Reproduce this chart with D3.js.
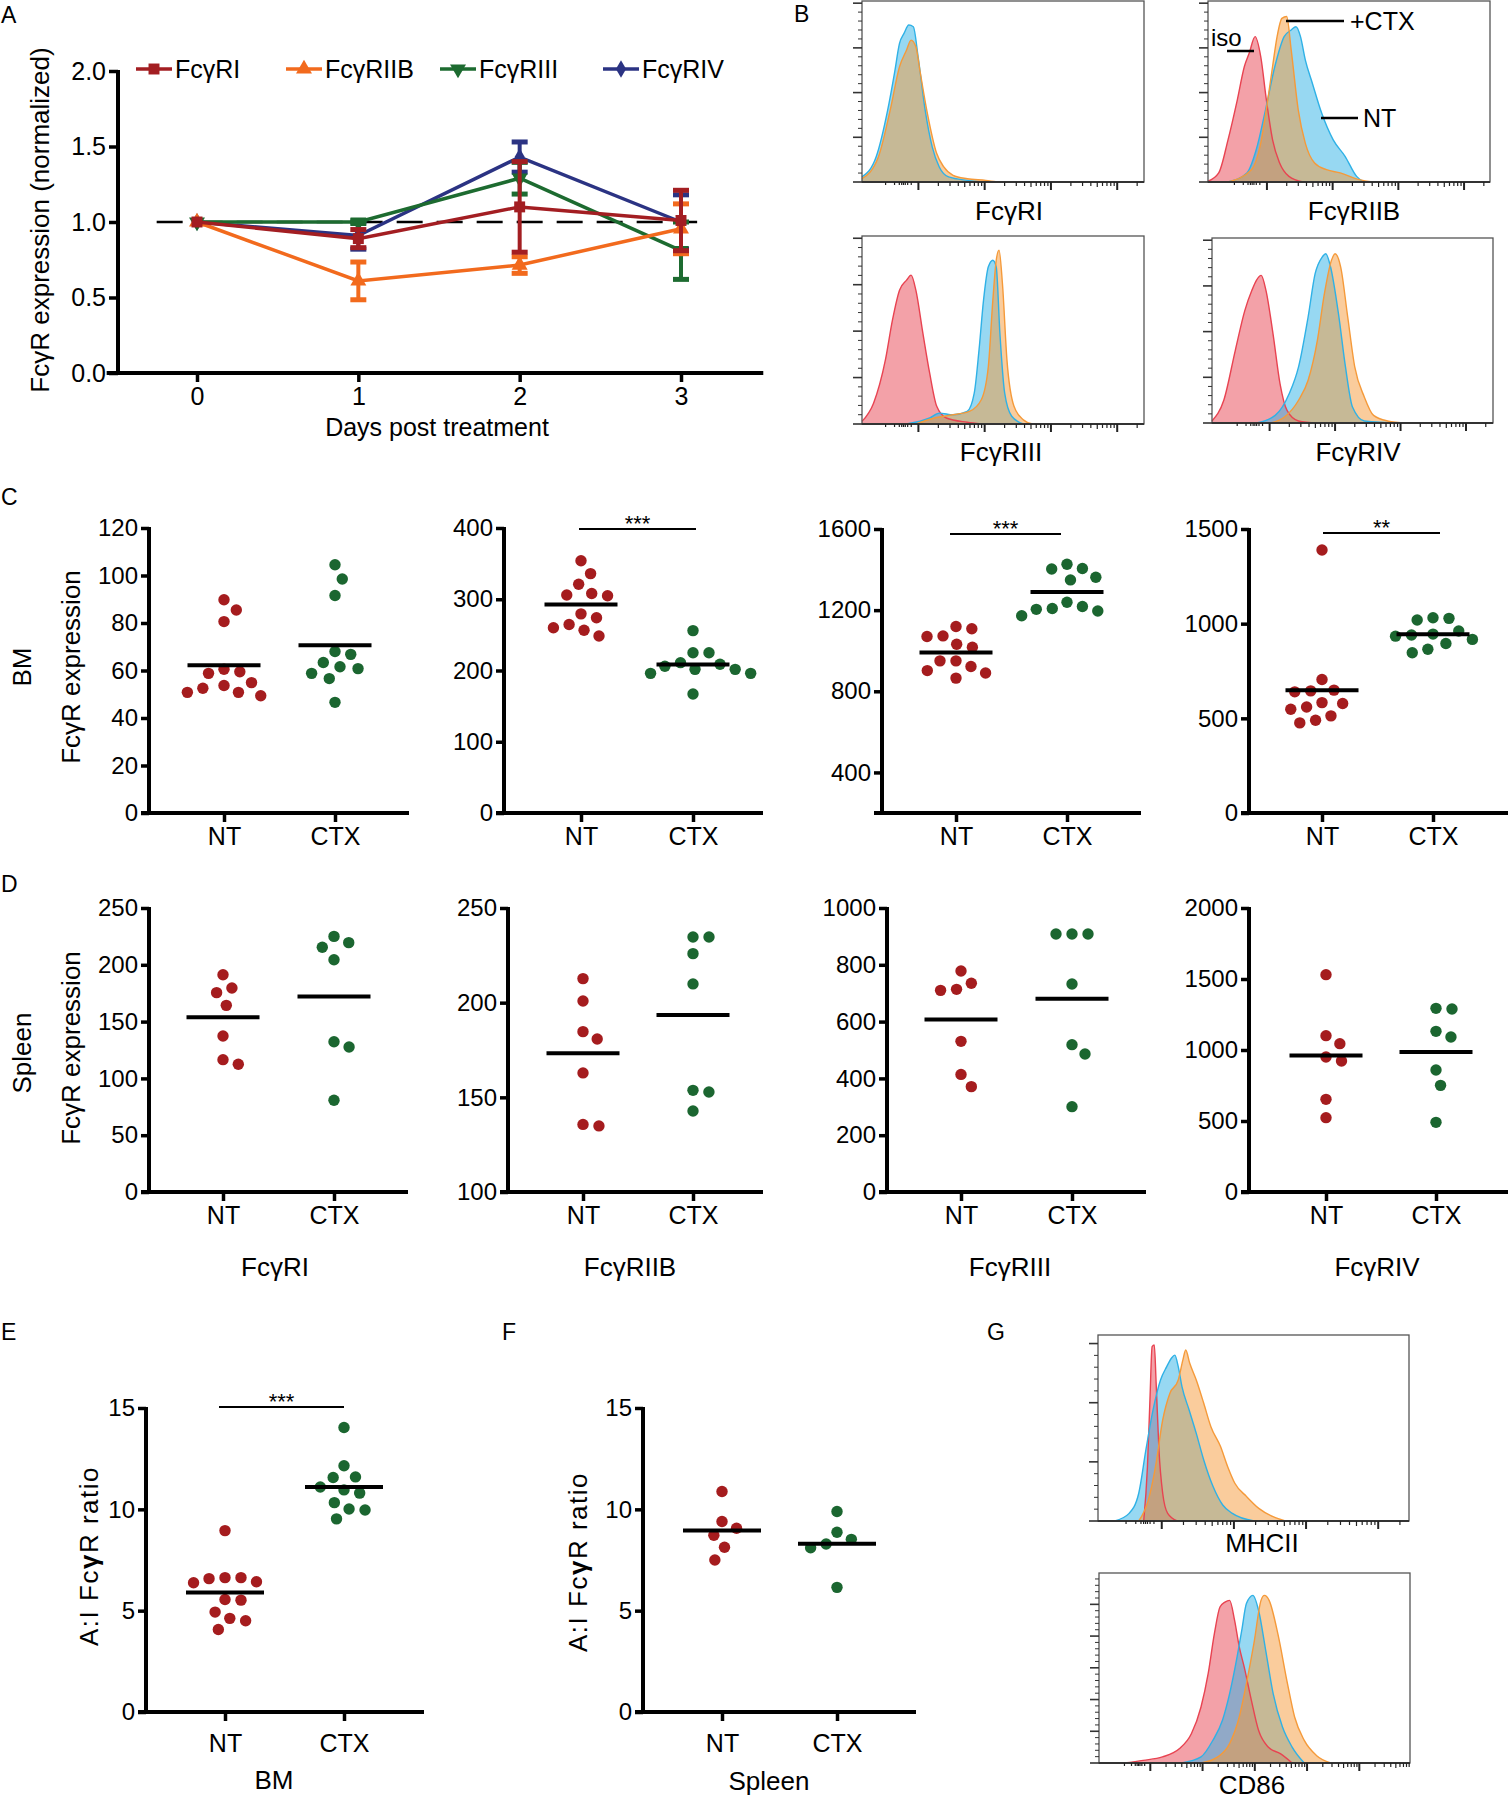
<!DOCTYPE html>
<html><head><meta charset="utf-8">
<script src="https://cdn.jsdelivr.net/npm/d3@7"></script>
<style>body{margin:0;background:#fff}</style>
</head><body>
<svg id="fig" width="1508" height="1800"></svg>
<script>
// ================= DATA =================
// Panel A: normalized FcγR expression over days
const days = [0, 1, 2, 3];
const aTicks = [0, 0.5, 1.0, 1.5, 2.0];
const aSeries = ["FcγRI", "FcγRIIB", "FcγRIII", "FcγRIV"];
const aMeanRI   = [1.00, 0.89, 1.10, 1.01];
const aErrRI    = [0, 0.06, 0.30, 0.20];
const aMeanRIIB = [1.00, 0.61, 0.715, 0.955];
const aErrRIIB  = [0, 0.125, 0.055, 0.165];
const aMeanRIII = [1.00, 1.00, 1.29, 0.81];
const aErrRIII  = [0, 0.01, 0.105, 0.19];
const aMeanRIV  = [1.00, 0.91, 1.43, 1.00];
const aErrRIV   = [0, 0.09, 0.10, 0.18];

// Dot plots groups
const groups = ["NT", "CTX"];
// C: bone marrow
const bmRI_NT    = [89.8, 85.5, 80.6, 59.5, 58.8, 60.5, 53.7, 50.8, 49.4, 50.8, 52.5, 54.9];
const bmRI_CTX   = [104.5, 98.5, 91.6, 66.8, 68.0, 63.4, 61.6, 58.8, 60.8, 56.6, 46.6];
const bmRIIB_NT  = [354, 336, 321, 308, 305, 306, 279.5, 274, 260, 264.5, 256.5, 248.5];
const bmRIIB_CTX = [256, 225, 225, 208.7, 201.6, 196, 196, 201.6, 206, 211, 167];
const bmRIII_NT  = [1108, 1119, 1070, 1073, 1032, 1017, 950, 950, 902, 890, 922, 865];
const bmRIII_CTX = [1426, 1405, 1403, 1362, 1349, 1239, 1218, 1204, 1196, 1208, 1172];
const bmRIV_NT   = [1389, 705, 645, 640, 649, 583, 560, 578, 548, 513, 490, 476];
const bmRIV_CTX  = [1031, 1019, 1028, 934, 945, 940, 961, 895, 917, 865, 846];
const ticksBmRI = [0, 20, 40, 60, 80, 100, 120];
const ticksBmRIIB = [0, 100, 200, 300, 400];
const ticksBmRIII = [400, 800, 1200, 1600];
const ticksBmRIV = [0, 500, 1000, 1500];
// D: spleen
const spRI_NT    = [191.3, 179.6, 175.5, 164.3, 137.3, 116.5, 112.4];
const spRI_CTX   = [225, 219.5, 215.4, 204.5, 132.3, 127.6, 80.7];
const spRIIB_NT  = [212.7, 200.9, 184.7, 180.8, 162.9, 134.9, 135.7];
const spRIIB_CTX = [234.7, 234.7, 225.9, 209.9, 153.7, 152.8, 142.8];
const spRIII_NT  = [778, 735, 710, 713.6, 530.5, 414, 371];
const spRIII_CTX = [908.5, 908.5, 908.5, 732.4, 518.8, 486, 300.5];
const spRIV_NT   = [1530.5, 1101, 1044.6, 950.7, 922.5, 652.6, 523.5];
const spRIV_CTX  = [1293.4, 1288.7, 1131.5, 1091.5, 859, 751, 490.6];
const ticksSpRI = [0, 50, 100, 150, 200, 250];
const ticksSpRIIB = [100, 150, 200, 250];
const ticksSpRIII = [0, 200, 400, 600, 800, 1000];
const ticksSpRIV = [0, 500, 1000, 1500, 2000];
// E/F: A:I ratio
const ratioBM_NT  = [8.95, 6.43, 6.63, 6.58, 6.63, 6.38, 5.55, 5.52, 4.62, 4.93, 4.5, 4.07];
const ratioBM_CTX = [14.04, 12.15, 11.57, 11.6, 10.96, 11.1, 10.8, 10.02, 9.97, 10.33, 9.53];
const ratioSp_NT  = [10.88, 9.07, 9.4, 8.72, 8.13, 7.5];
const ratioSp_CTX = [9.89, 8.87, 8.52, 8.29, 8.1, 6.15];
const ticksRatio = [0, 5, 10, 15];

// Flow histograms: [position (fraction of axis), height (fraction of axis)]
const flowRI_NT = [[0,0.028],[0.05,0.138],[0.091,0.397],[0.116,0.609],[0.133,0.766],[0.149,0.821],[0.166,0.867],[0.182,0.858],[0.199,0.692],[0.224,0.397],[0.249,0.194],[0.274,0.083],[0.307,0.028],[0.373,0.009],[0.439,0]];
const flowRI_CTX = [[0,0.018],[0.058,0.138],[0.10,0.397],[0.133,0.637],[0.158,0.729],[0.174,0.784],[0.191,0.747],[0.207,0.60],[0.232,0.378],[0.265,0.157],[0.29,0.083],[0.323,0.037],[0.373,0.018],[0.439,0.009],[0.481,0]];
const flowRIIB_iso = [[0,0.004],[0.038,0.05],[0.071,0.233],[0.104,0.454],[0.129,0.638],[0.146,0.711],[0.167,0.803],[0.187,0.693],[0.207,0.454],[0.229,0.233],[0.254,0.105],[0.287,0.031],[0.337,0]];
const flowRIIB_NT = [[0.071,0],[0.138,0.05],[0.171,0.178],[0.204,0.399],[0.237,0.638],[0.27,0.803],[0.295,0.84],[0.312,0.858],[0.328,0.803],[0.345,0.675],[0.37,0.546],[0.403,0.381],[0.444,0.233],[0.486,0.142],[0.527,0.031],[0.552,0]];
const flowRIIB_CTX = [[0.071,0],[0.154,0.068],[0.187,0.215],[0.212,0.454],[0.229,0.638],[0.245,0.803],[0.262,0.904],[0.279,0.914],[0.295,0.73],[0.32,0.399],[0.345,0.215],[0.378,0.105],[0.42,0.068],[0.469,0.05],[0.536,0.013],[0.585,0]];
const flowRIII_iso = [[0,0.014],[0.041,0.111],[0.083,0.341],[0.108,0.553],[0.133,0.712],[0.158,0.765],[0.174,0.792],[0.191,0.712],[0.216,0.482],[0.24,0.27],[0.265,0.094],[0.299,0.032],[0.373,0.009],[0.423,0]];
const flowRIII_NT = [[0.158,0],[0.24,0.032],[0.274,0.058],[0.323,0.049],[0.373,0.067],[0.398,0.164],[0.415,0.394],[0.431,0.659],[0.448,0.836],[0.464,0.871],[0.476,0.836],[0.489,0.482],[0.506,0.164],[0.531,0.041],[0.572,0]];
const flowRIII_CTX = [[0.191,0],[0.257,0.032],[0.323,0.049],[0.381,0.067],[0.423,0.129],[0.448,0.306],[0.464,0.659],[0.476,0.871],[0.486,0.924],[0.498,0.747],[0.514,0.341],[0.539,0.094],[0.572,0.023],[0.605,0]];
const flowRIV_iso = [[0,0.011],[0.042,0.123],[0.083,0.393],[0.117,0.609],[0.142,0.717],[0.158,0.771],[0.175,0.798],[0.192,0.717],[0.217,0.483],[0.242,0.213],[0.267,0.068],[0.308,0.011],[0.375,0]];
const flowRIV_NT = [[0.158,0],[0.225,0.041],[0.275,0.159],[0.308,0.303],[0.342,0.573],[0.367,0.807],[0.392,0.897],[0.405,0.915],[0.422,0.843],[0.45,0.591],[0.475,0.303],[0.5,0.086],[0.542,0.011],[0.675,0]];
const flowRIV_CTX = [[0.208,0],[0.258,0.032],[0.308,0.123],[0.342,0.231],[0.375,0.447],[0.4,0.699],[0.425,0.879],[0.438,0.915],[0.458,0.843],[0.483,0.573],[0.508,0.303],[0.542,0.141],[0.575,0.041],[0.625,0.011],[0.692,0]];
const flowMHCII_iso = [[0.147,0],[0.159,0.292],[0.167,0.651],[0.174,0.937],[0.181,0.946],[0.187,0.74],[0.196,0.382],[0.208,0.149],[0.224,0.041],[0.255,0]];
const flowMHCII_NT = [[0.054,0],[0.10,0.041],[0.131,0.149],[0.154,0.382],[0.177,0.597],[0.201,0.758],[0.221,0.83],[0.236,0.875],[0.247,0.892],[0.258,0.83],[0.27,0.722],[0.293,0.597],[0.316,0.471],[0.34,0.328],[0.37,0.185],[0.401,0.086],[0.432,0.041],[0.502,0]];
const flowMHCII_CTX = [[0.131,0],[0.162,0.113],[0.185,0.292],[0.208,0.543],[0.231,0.686],[0.258,0.758],[0.273,0.866],[0.282,0.919],[0.295,0.848],[0.316,0.758],[0.34,0.633],[0.363,0.507],[0.394,0.40],[0.417,0.292],[0.44,0.203],[0.478,0.131],[0.517,0.068],[0.563,0.023],[0.602,0]];
const flowCD86_iso = [[0.08,0],[0.142,0.014],[0.204,0.032],[0.258,0.075],[0.297,0.154],[0.328,0.295],[0.351,0.47],[0.371,0.681],[0.389,0.821],[0.405,0.847],[0.42,0.856],[0.436,0.751],[0.451,0.611],[0.467,0.505],[0.49,0.33],[0.513,0.172],[0.544,0.084],[0.583,0.049],[0.621,0]];
const flowCD86_NT = [[0.266,0],[0.328,0.032],[0.366,0.119],[0.397,0.225],[0.42,0.365],[0.444,0.558],[0.459,0.698],[0.474,0.839],[0.495,0.882],[0.513,0.804],[0.536,0.593],[0.56,0.365],[0.59,0.189],[0.621,0.084],[0.66,0]];
const flowCD86_CTX = [[0.328,0],[0.382,0.032],[0.42,0.102],[0.451,0.242],[0.474,0.418],[0.498,0.628],[0.521,0.856],[0.532,0.882],[0.547,0.856],[0.575,0.681],[0.606,0.418],[0.629,0.242],[0.66,0.119],[0.699,0.04],[0.745,0]];

// ================= STYLE =================
const FONT = '"Liberation Sans", Arial, Helvetica, sans-serif';
const RED = "#a51c1e", GREEN = "#1b6630";
const aColors = ["#a31e22", "#f26a1d", "#1d6b30", "#2b3383"];
const ISO = "#e84351", NTC = "#2fb1e6", CTXC = "#f59a3a";
const svg = d3.select("#fig");
svg.append("rect").attr("width",1508).attr("height",1800).attr("fill","#fff");

function styleAxis(sel, fs){
  sel.attr("font-family", null).attr("font-size", null);
  sel.selectAll("line").attr("stroke","#000").attr("stroke-width",3.5);
  sel.selectAll("text").attr("font-family",FONT).attr("font-size",fs).attr("fill","#000");
}
function txt(x, y, s, fs, anchor, rot){
  const t = svg.append("text").attr("x",x).attr("y",y).attr("font-family",FONT).attr("font-size",fs)
    .attr("text-anchor",anchor||"middle").attr("fill","#000").text(s);
  if(rot) t.attr("transform",`rotate(${rot},${x},${y})`);
  return t;
}

// Panel letters
[["A",1,23],["B",794,22],["C",1,505],["D",1,892],["E",1,1340],["F",502,1340],["G",987,1340]]
  .forEach(([l,x,y])=>txt(x,y,l,23,"start"));

// ================= PANEL A =================
(function(){
  const x = d3.scaleLinear().domain([0,3]).range([197,681]);
  const y = d3.scaleLinear().domain([0,2]).range([373,71]);
  const g = svg.append("g");
  const ya = g.append("g").attr("transform","translate(118,0)")
    .call(d3.axisLeft(y).tickValues(aTicks).tickFormat(d3.format(".1f")).tickSize(9).tickPadding(3).tickSizeOuter(0));
  ya.select(".domain").remove(); styleAxis(ya,25);
  const xa = g.append("g").attr("transform","translate(0,373)")
    .call(d3.axisBottom(x).tickValues(days).tickFormat(d3.format("d")).tickSize(9).tickPadding(5).tickSizeOuter(0));
  xa.select(".domain").remove(); styleAxis(xa,25);
  g.append("line").attr("x1",118).attr("x2",118).attr("y1",y(2)-1).attr("y2",373).attr("stroke","#000").attr("stroke-width",4);
  g.append("line").attr("x1",x(-0.56)).attr("x2",x(3.51)).attr("y1",373).attr("y2",373).attr("stroke","#000").attr("stroke-width",4);
  g.append("line").attr("x1",x(-0.25)).attr("x2",x(3.1)).attr("y1",y(1)).attr("y2",y(1))
    .attr("stroke","#000").attr("stroke-width",2.5).attr("stroke-dasharray","26,14");
  txt(40,220,"FcγR expression (normalized)",26,"middle",-90).attr("dy","0.35em");
  txt(437,436,"Days post treatment",25);

  const means = [aMeanRI, aMeanRIIB, aMeanRIII, aMeanRIV];
  const errs = [aErrRI, aErrRIIB, aErrRIII, aErrRIV];
  const sym = [d3.symbol(d3.symbolSquare,120), d3.symbol(d3.symbolTriangle,110), d3.symbol(d3.symbolTriangle,110), d3.symbol(d3.symbolDiamond,90)];
  const rot = [0,0,180,0];
  const order = [3,2,1,0];
  order.forEach(i=>{
    const col = aColors[i];
    const pts = days.map((d,k)=>({d, m:means[i][k], e:errs[i][k]}));
    g.append("path").datum(pts).attr("fill","none").attr("stroke",col).attr("stroke-width",3.5)
      .attr("d", d3.line().x(p=>x(p.d)).y(p=>y(p.m)));
    pts.filter(p=>p.e>0).forEach(p=>{
      g.append("line").attr("x1",x(p.d)).attr("x2",x(p.d)).attr("y1",y(p.m-p.e)).attr("y2",y(p.m+p.e)).attr("stroke",col).attr("stroke-width",4);
      [p.m-p.e,p.m+p.e].forEach(v=>g.append("line").attr("x1",x(p.d)-8).attr("x2",x(p.d)+8).attr("y1",y(v)).attr("y2",y(v)).attr("stroke",col).attr("stroke-width",5));
    });
    g.selectAll(null).data(pts).join("path").attr("d",sym[i]).attr("fill",col)
      .attr("transform",p=>`translate(${x(p.d)},${y(p.m)}) rotate(${rot[i]})`);
  });
  // legend
  const lx = [136,286,440,603];
  aSeries.forEach((s,i)=>{
    g.append("line").attr("x1",lx[i]).attr("x2",lx[i]+36).attr("y1",69).attr("y2",69).attr("stroke",aColors[i]).attr("stroke-width",3.5);
    g.append("path").attr("d",sym[i]).attr("fill",aColors[i]).attr("transform",`translate(${lx[i]+18},69) rotate(${rot[i]})`);
    txt(lx[i]+39,78,s,25,"start");
  });
})();

// ================= FLOW HISTOGRAMS =================
function flowBox(b, curves, yMajStep, yN, xFirst, xStep, xN, label, lx, ly){
  const g = svg.append("g");
  const x = d3.scaleLinear().domain([0,1]).range([b.x0,b.x1]);
  const y = d3.scaleLinear().domain([0,1]).range([b.y1,b.y0]);
  const area = d3.area().x(d=>x(d[0])).y0(y(0)).y1(d=>y(d[1])).curve(d3.curveMonotoneX);
  curves.forEach(c=>{
    g.append("path").datum(c.data).attr("d",area).attr("fill",c.color).attr("fill-opacity",0.5);
  });
  curves.forEach(c=>{
    g.append("path").datum(c.data).attr("d",area.lineY1()).attr("fill","none").attr("stroke",c.color).attr("stroke-width",1.4);
  });
  g.append("rect").attr("x",b.x0).attr("y",b.y0).attr("width",b.x1-b.x0).attr("height",b.y1-b.y0)
    .attr("fill","none").attr("stroke","#555").attr("stroke-width",1.3);
  g.append("line").attr("x1",b.x0).attr("x2",b.x1).attr("y1",b.y1).attr("y2",b.y1).attr("stroke","#333").attr("stroke-width",2);
  // left ticks
  for(let i=0;i<yN;i++){
    for(let k=0;k<5;k++){
      const f = i*yMajStep + k*yMajStep/5;
      if(f>1.0) break;
      const len = k===0?9:4;
      g.append("line").attr("x1",b.x0-len).attr("x2",b.x0).attr("y1",y(f)).attr("y2",y(f)).attr("stroke","#333").attr("stroke-width",k===0?1.6:1);
    }
  }
  // bottom ticks (log decades)
  const tks=[];
  [0.45,0.6,0.68,0.72,0.75,0.78,0.82,0.88].forEach(r=>tks.push([xFirst - xStep*(1-r)*0.9, 3]));
  for(let i=0;i<xN;i++){
    const p = xFirst + i*xStep;
    tks.push([p,8]);
    for(let k=2;k<=9;k++){ const q = p + Math.log10(k)*xStep; if(q<1) tks.push([q, k===5?5:4]); }
  }
  tks.filter(t=>t[0]>0 && t[0]<1).forEach(t=>{
    g.append("line").attr("x1",x(t[0])).attr("x2",x(t[0])).attr("y1",b.y1).attr("y2",b.y1+t[1]).attr("stroke","#222").attr("stroke-width",t[1]>6?2:1.2);
  });
  txt(lx,ly,label,26);
}
flowBox({x0:862,x1:1144,y0:1,y1:182},[{data:flowRI_NT,color:NTC},{data:flowRI_CTX,color:CTXC}],0.247,5,0.20,0.235,4,"FcγRI",1009,220);
flowBox({x0:1208,x1:1490,y0:1,y1:182},[{data:flowRIIB_iso,color:ISO},{data:flowRIIB_NT,color:NTC},{data:flowRIIB_CTX,color:CTXC}],0.247,5,0.209,0.233,4,"FcγRIIB",1354,220);
flowBox({x0:862,x1:1144,y0:236,y1:424},[{data:flowRIII_iso,color:ISO},{data:flowRIII_NT,color:NTC},{data:flowRIII_CTX,color:CTXC}],0.247,5,0.20,0.235,4,"FcγRIII",1001,461);
flowBox({x0:1212,x1:1493,y0:238,y1:423},[{data:flowRIV_iso,color:ISO},{data:flowRIV_NT,color:NTC},{data:flowRIV_CTX,color:CTXC}],0.247,5,0.205,0.233,4,"FcγRIV",1358,461);
flowBox({x0:1098,x1:1409,y0:1335,y1:1521},[{data:flowMHCII_iso,color:ISO},{data:flowMHCII_NT,color:NTC},{data:flowMHCII_CTX,color:CTXC}],0.318,4,0.205,0.232,4,"MHCII",1262,1552);
flowBox({x0:1099,x1:1410,y0:1573,y1:1763},[{data:flowCD86_iso,color:ISO},{data:flowCD86_NT,color:NTC},{data:flowCD86_CTX,color:CTXC}],0.167,6,0.165,0.168,5,"CD86",1252,1794);
// annotations in FcγRIIB box
txt(1211,46,"iso",24,"start");
svg.append("line").attr("x1",1227).attr("x2",1254).attr("y1",51).attr("y2",51).attr("stroke","#000").attr("stroke-width",2.5);
svg.append("line").attr("x1",1286).attr("x2",1344).attr("y1",21).attr("y2",21).attr("stroke","#000").attr("stroke-width",2.5);
txt(1350,30,"+CTX",25,"start");
svg.append("line").attr("x1",1321).attr("x2",1358).attr("y1",118).attr("y2",118).attr("stroke","#000").attr("stroke-width",2.5);
txt(1363,127,"NT",25,"start");

// ================= DOT PLOTS =================
const R = 5.7;
const SPREAD = 16;
function swarm(vals, y, d){
  const pts = vals.map(v=>({v, y:y(v), x:0})).sort((a,b)=>a.y-b.y);
  const placed = [];
  pts.forEach(p=>{
    const cands = [0];
    placed.forEach(q=>{ const dy=Math.abs(q.y-p.y); if(dy<d){ const dx=Math.sqrt(d*d-dy*dy); cands.push(q.x+dx, q.x-dx);} });
    cands.sort((a,b)=>Math.abs(a)-Math.abs(b));
    for(const c of cands){ if(placed.every(q=>Math.hypot(q.x-c,q.y-p.y)>=d-0.01)){ p.x=c; break; } }
    placed.push(p);
  });
  return placed;
}
function dotPanel(o){
  const g = svg.append("g");
  const y = d3.scaleLinear().domain(o.domain).range([o.yBot,o.yTop]);
  const x = d3.scalePoint().domain(groups).range([o.ntX,o.ctxX]);
  const ya = g.append("g").attr("transform",`translate(${o.axX},0)`)
    .call(d3.axisLeft(y).tickValues(o.ticks).tickFormat(d3.format("d")).tickSize(8).tickPadding(3).tickSizeOuter(0));
  ya.select(".domain").remove(); styleAxis(ya,24);
  const xa = g.append("g").attr("transform",`translate(0,${o.yBot})`)
    .call(d3.axisBottom(x).tickSize(9).tickPadding(o.xPad).tickSizeOuter(0));
  xa.select(".domain").remove(); styleAxis(xa,25);
  g.append("line").attr("x1",o.axX).attr("x2",o.axX).attr("y1",y(o.domain[1])-1).attr("y2",o.yBot).attr("stroke","#000").attr("stroke-width",4);
  g.append("line").attr("x1",o.axX-8).attr("x2",o.xEnd).attr("y1",o.yBot).attr("y2",o.yBot).attr("stroke","#000").attr("stroke-width",4);
  [[o.nt,"NT",RED],[o.ctx,"CTX",GREEN]].forEach(([vals,grp,col])=>{
    const pts = swarm(vals,y,SPREAD);
    g.selectAll(null).data(pts).join("circle").attr("cx",d=>x(grp)+d.x).attr("cy",d=>d.y).attr("r",R).attr("fill",col);
  });
  [[o.nt,"NT"],[o.ctx,"CTX"]].forEach(([vals,grp])=>{
    const m = d3.mean(vals);
    g.append("line").attr("x1",x(grp)-o.mw/2).attr("x2",x(grp)+o.mw/2).attr("y1",y(m)).attr("y2",y(m)).attr("stroke","#000").attr("stroke-width",4);
  });
  if(o.sig){
    g.append("line").attr("x1",o.sig[0]).attr("x2",o.sig[1]).attr("y1",o.sig[2]).attr("y2",o.sig[2]).attr("stroke","#000").attr("stroke-width",2);
    txt((o.sig[0]+o.sig[1])/2, o.sig[2]+2, o.sigText, 22);
  }
  if(o.label) txt(o.label[0], o.label[1], o.label[2], 26);
}
// Row C (BM)
dotPanel({axX:149,yTop:528,yBot:813,domain:[0,120],ticks:ticksBmRI,ntX:224,ctxX:335,xEnd:409,xPad:5,mw:73,nt:bmRI_NT,ctx:bmRI_CTX});
dotPanel({axX:504,yTop:528,yBot:813,domain:[0,400],ticks:ticksBmRIIB,ntX:581,ctxX:693,xEnd:763,xPad:5,mw:73,nt:bmRIIB_NT,ctx:bmRIIB_CTX,sig:[579,696,529],sigText:"***"});
dotPanel({axX:882,yTop:529,yBot:813,domain:[200,1600],ticks:ticksBmRIII,ntX:956,ctxX:1067,xEnd:1141,xPad:5,mw:73,nt:bmRIII_NT,ctx:bmRIII_CTX,sig:[950,1061,534],sigText:"***"});
dotPanel({axX:1249,yTop:529,yBot:813,domain:[0,1500],ticks:ticksBmRIV,ntX:1322,ctxX:1433,xEnd:1508,xPad:5,mw:73,nt:bmRIV_NT,ctx:bmRIV_CTX,sig:[1323,1440,533],sigText:"**"});
txt(22,667,"BM",26,"middle",-90).attr("dy","0.35em");
txt(71,667,"FcγR expression",26,"middle",-90).attr("dy","0.35em");
// Row D (Spleen)
dotPanel({axX:149,yTop:908,yBot:1192,domain:[0,250],ticks:ticksSpRI,ntX:223,ctxX:334,xEnd:408,xPad:5,mw:73,nt:spRI_NT,ctx:spRI_CTX,label:[275,1276,"FcγRI"]});
dotPanel({axX:508,yTop:908,yBot:1192,domain:[100,250],ticks:ticksSpRIIB,ntX:583,ctxX:693,xEnd:763,xPad:5,mw:73,nt:spRIIB_NT,ctx:spRIIB_CTX,label:[630,1276,"FcγRIIB"]});
dotPanel({axX:887,yTop:908,yBot:1192,domain:[0,1000],ticks:ticksSpRIII,ntX:961,ctxX:1072,xEnd:1146,xPad:5,mw:73,nt:spRIII_NT,ctx:spRIII_CTX,label:[1010,1276,"FcγRIII"]});
dotPanel({axX:1249,yTop:908,yBot:1192,domain:[0,2000],ticks:ticksSpRIV,ntX:1326,ctxX:1436,xEnd:1508,xPad:5,mw:73,nt:spRIV_NT,ctx:spRIV_CTX,label:[1377,1276,"FcγRIV"]});
txt(22,1053,"Spleen",26,"middle",-90).attr("dy","0.35em");
txt(71,1048,"FcγR expression",26,"middle",-90).attr("dy","0.35em");
// E, F
dotPanel({axX:146,yTop:1408,yBot:1712,domain:[0,15],ticks:ticksRatio,ntX:225,ctxX:344,xEnd:424,xPad:13,mw:78,nt:ratioBM_NT,ctx:ratioBM_CTX,sig:[219,344,1407],sigText:"***",label:[274,1789,"BM"]});
dotPanel({axX:643,yTop:1408,yBot:1712,domain:[0,15],ticks:ticksRatio,ntX:722,ctxX:837,xEnd:916,xPad:13,mw:78,nt:ratioSp_NT,ctx:ratioSp_CTX,label:[769,1790,"Spleen"]});
function ratioLabel(x,y){
  const t = svg.append("text").attr("font-family",FONT).attr("font-size",26).attr("text-anchor","middle")
    .attr("letter-spacing",1.5).attr("transform",`translate(${x},${y}) rotate(-90)`).attr("dy","0.35em");
  t.append("tspan").text("A:I Fc");
  t.append("tspan").attr("font-weight","bold").text("γ");
  t.append("tspan").text("R ratio");
}
ratioLabel(89,1556);
ratioLabel(578,1562);
</script>
</body></html>
